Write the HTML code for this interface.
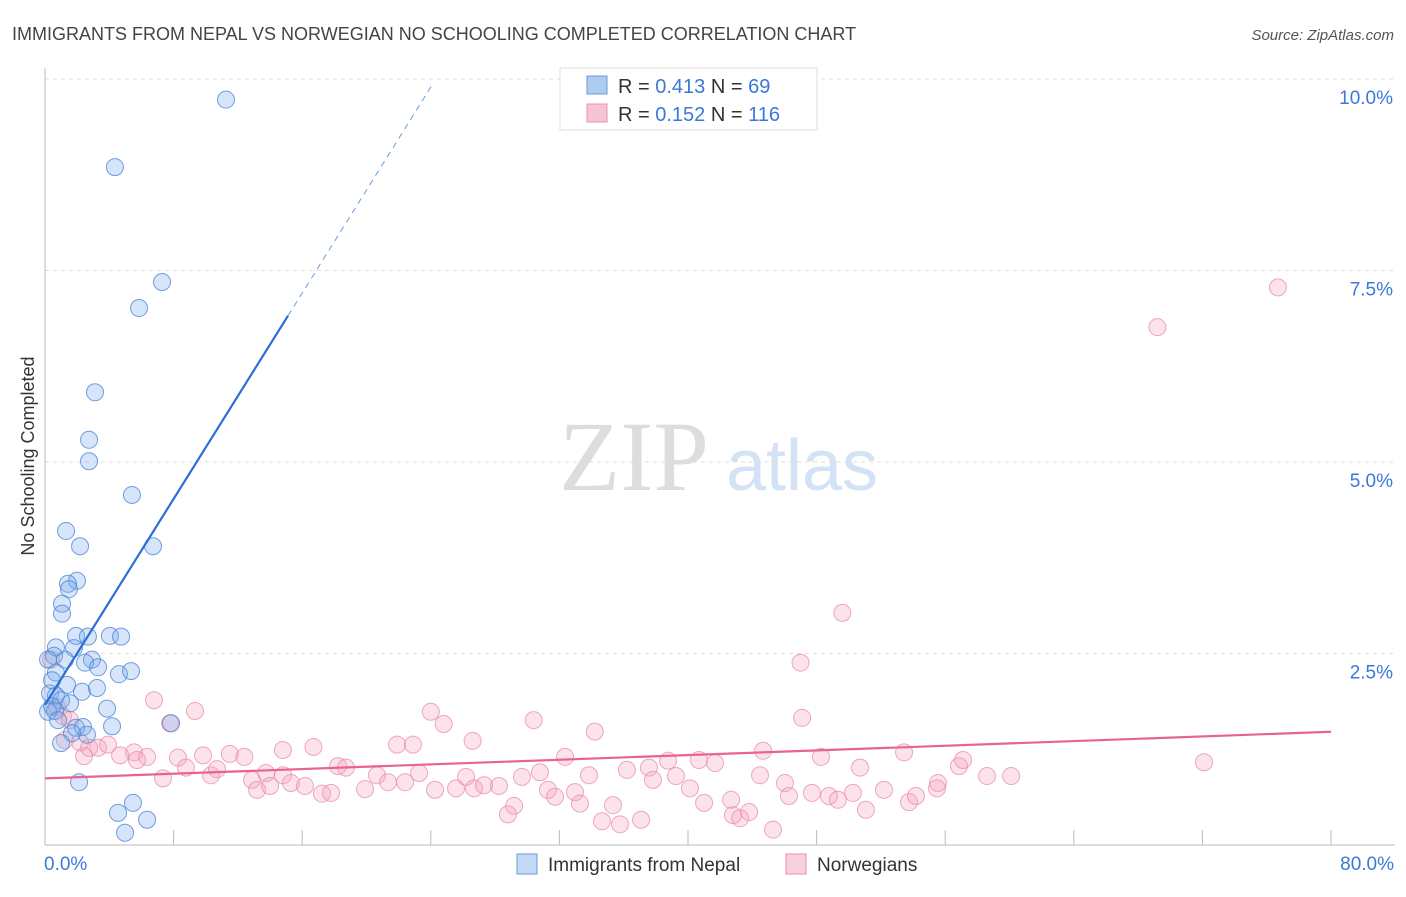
<!DOCTYPE html>
<html><head><meta charset="utf-8"><style>
body{margin:0;background:#fff;font-family:"Liberation Sans",sans-serif}
svg text{font-family:"Liberation Sans",sans-serif}
</style></head><body>
<svg id="chart" width="1406" height="892" xmlns="http://www.w3.org/2000/svg">
<text x="12" y="40" font-size="18" fill="#444">IMMIGRANTS FROM NEPAL VS NORWEGIAN NO SCHOOLING COMPLETED CORRELATION CHART</text>
<text x="1394" y="40" font-size="15" fill="#555" text-anchor="end" font-style="italic">Source: ZipAtlas.com</text>
<text transform="translate(34,456) rotate(-90)" font-size="18" fill="#333" text-anchor="middle">No Schooling Completed</text>
<g><text x="634" y="490" font-size="100" fill="#ddd" text-anchor="middle" style="font-family:'Liberation Serif',serif">ZIP</text><text x="802" y="490" font-size="72" fill="#d3e2f4" text-anchor="middle">atlas</text></g>
<g id="grid"></g><g id="axes"></g><g id="pts"></g><g id="trend"></g>
<g>
<rect x="560" y="68" width="257" height="62" fill="#fff" stroke="#ddd"/>
<rect x="587" y="76" width="20" height="18" fill="#aecbf0" stroke="#6a9bdc"/>
<text x="618" y="93" font-size="20" fill="#333">R = <tspan fill="#3b78d8">0.413</tspan>   N =  <tspan fill="#3b78d8">69</tspan></text>
<rect x="587" y="104" width="20" height="18" fill="#f7c4d4" stroke="#e893ad"/>
<text x="618" y="121" font-size="20" fill="#333">R = <tspan fill="#3b78d8">0.152</tspan>   N = <tspan fill="#3b78d8">116</tspan></text>
</g>
<g>
<rect x="517" y="854" width="20" height="20" fill="#c3d9f5" stroke="#6a9bdc"/>
<text x="548" y="871" font-size="19" fill="#333">Immigrants from Nepal</text>
<rect x="786" y="854" width="20" height="20" fill="#f9d0de" stroke="#e893ad"/>
<text x="817" y="871" font-size="19" fill="#333">Norwegians</text>
</g>
</svg>
<script>
const yTicks=[2.5,5,7.5,10];
const yTickLabels=["2.5%","5.0%","7.5%","10.0%"];
const xTicks=[0,8,16,24,32,40,48,56,64,72,80];
const xEndLabels=["0.0%","80.0%"];
const nepal=[[11.26,9.73],[4.35,8.85],[7.28,7.35],[5.85,7.01],[3.11,5.91],[2.74,5.29],[2.74,5.01],[5.41,4.57],[1.31,4.10],[2.18,3.90],[6.72,3.90],[1.99,3.45],[1.43,3.41],[1.49,3.34],[1.06,3.15],[1.06,3.02],[1.93,2.73],[2.67,2.72],[4.04,2.73],[4.73,2.72],[0.68,2.58],[1.80,2.57],[0.56,2.47],[1.24,2.42],[2.92,2.42],[2.49,2.38],[3.30,2.32],[4.60,2.23],[5.35,2.27],[0.68,2.25],[1.37,2.09],[2.30,2.00],[3.23,2.05],[0.31,1.98],[0.68,1.95],[1.00,1.89],[1.56,1.85],[0.44,1.81],[3.86,1.78],[0.19,1.74],[0.62,1.75],[1.93,1.53],[2.36,1.54],[2.61,1.44],[1.68,1.46],[1.00,1.33],[4.17,1.55],[7.84,1.59],[2.12,0.82],[4.54,0.42],[5.47,0.55],[6.35,0.33],[4.98,0.16],[0.44,2.15],[0.19,2.42],[0.81,1.63]];
const norway=[[76.7,7.28],[69.2,6.76],[49.6,3.03],[47.0,2.38],[47.1,1.66],[34.2,1.48],[30.4,1.63],[24.0,1.74],[24.8,1.58],[26.6,1.36],[6.78,1.89],[9.33,1.75],[7.78,1.59],[14.8,1.24],[16.7,1.28],[11.5,1.19],[12.4,1.15],[9.83,1.17],[8.27,1.14],[5.54,1.21],[4.67,1.17],[3.30,1.27],[2.43,1.16],[2.74,1.27],[6.35,1.15],[5.72,1.11],[8.77,1.01],[7.34,0.87],[10.33,0.91],[10.70,0.99],[12.88,0.85],[13.19,0.72],[13.75,0.94],[14.81,0.91],[14.0,0.77],[15.3,0.81],[16.17,0.77],[17.23,0.67],[17.79,0.68],[18.23,1.03],[18.72,1.01],[19.91,0.73],[20.65,0.91],[21.34,0.82],[21.9,1.31],[22.89,1.31],[22.4,0.82],[23.27,0.94],[24.26,0.72],[25.57,0.74],[26.19,0.89],[26.69,0.74],[27.31,0.78],[28.24,0.77],[29.18,0.51],[28.8,0.40],[29.67,0.89],[30.79,0.95],[31.29,0.72],[31.73,0.63],[32.35,1.15],[32.97,0.69],[33.28,0.54],[33.84,0.91],[34.65,0.31],[35.33,0.52],[35.77,0.27],[36.2,0.98],[37.08,0.33],[37.57,1.01],[37.82,0.85],[38.76,1.10],[39.25,0.90],[40.12,0.74],[40.68,1.11],[41.0,0.55],[41.68,1.07],[42.68,0.59],[42.8,0.39],[43.24,0.35],[43.8,0.43],[44.48,0.91],[44.67,1.23],[45.29,0.20],[46.03,0.81],[46.28,0.64],[47.71,0.68],[48.27,1.15],[48.77,0.64],[49.33,0.59],[50.26,0.68],[50.7,1.01],[51.07,0.46],[52.19,0.72],[53.44,1.21],[53.75,0.56],[54.18,0.64],[55.55,0.81],[55.49,0.74],[56.86,1.03],[57.11,1.11],[58.6,0.90],[60.1,0.90],[72.1,1.08],[0.75,1.80],[1.12,1.68],[1.56,1.63],[0.37,2.42],[1.24,1.37],[2.18,1.34],[3.92,1.31]];
const nepalTrend=[1.83,0.336];
const norwayTrend=[0.87,0.0076];
const NS="http://www.w3.org/2000/svg";
const X=v=>45+v*(1286/80), Y=v=>845-v*76.6;
function mk(tag,attrs,parent){const e=document.createElementNS(NS,tag);for(const k in attrs)e.setAttribute(k,attrs[k]);document.getElementById(parent).appendChild(e);return e;}
yTicks.forEach((t,i)=>{
 const g=mk('line',{x1:45,x2:1395,y1:Y(t),y2:Y(t),stroke:'#ddd','stroke-dasharray':'4,4'},'grid');
 
 
 const l=mk('text',{x:1393,y:Y(t)+25,'font-size':19,fill:'#3b78d8','text-anchor':'end'},'grid');
 l.textContent=yTickLabels[i];
 
 
});
const ax=mk('line',{x1:45,x2:45,y1:68,y2:845,stroke:'#bbb'},'axes');


const bx=mk('line',{x1:45,x2:1395,y1:845,y2:845,stroke:'#bbb'},'axes');


xTicks.forEach(t=>{
 const k=mk('line',{x1:X(t),x2:X(t),y1:830,y2:845,stroke:'#bbb'},'axes');
 
 
});
[[0,'start',44],[80,'end',1394]].forEach((d,i)=>{
 const l=mk('text',{x:d[2],y:870,'font-size':19,fill:'#3b78d8','text-anchor':d[1]},'axes');
 l.textContent=xEndLabels[i];
 
 
});
norway.forEach(p=>{
 const c=mk('circle',{cx:X(p[0]),cy:Y(p[1]),r:8.5,fill:'rgba(244,160,188,0.3)',stroke:'rgba(232,140,170,0.75)','stroke-width':1},'pts');
 
 
});
nepal.forEach(p=>{
 const c=mk('circle',{cx:X(p[0]),cy:Y(p[1]),r:8.5,fill:'rgba(120,170,235,0.3)',stroke:'rgba(80,135,215,0.8)','stroke-width':1},'pts');
 
 
});
const bt=mk('line',{x1:X(0),y1:Y(nepalTrend[0]),x2:X(15.12),y2:Y(nepalTrend[0]+nepalTrend[1]*15.12),stroke:'#2b6fd6','stroke-width':2.2},'trend');


const bd=mk('line',{x1:X(15.12),y1:Y(nepalTrend[0]+nepalTrend[1]*15.12),x2:X(24.07),y2:Y(nepalTrend[0]+nepalTrend[1]*24.07),stroke:'#6a9bdc','stroke-width':1,'stroke-dasharray':'6,5'},'trend');


const pt=mk('line',{x1:X(0),y1:Y(norwayTrend[0]),x2:X(80),y2:Y(norwayTrend[0]+norwayTrend[1]*80),stroke:'#e8648f','stroke-width':2.2},'trend');


</script>
</body></html>
